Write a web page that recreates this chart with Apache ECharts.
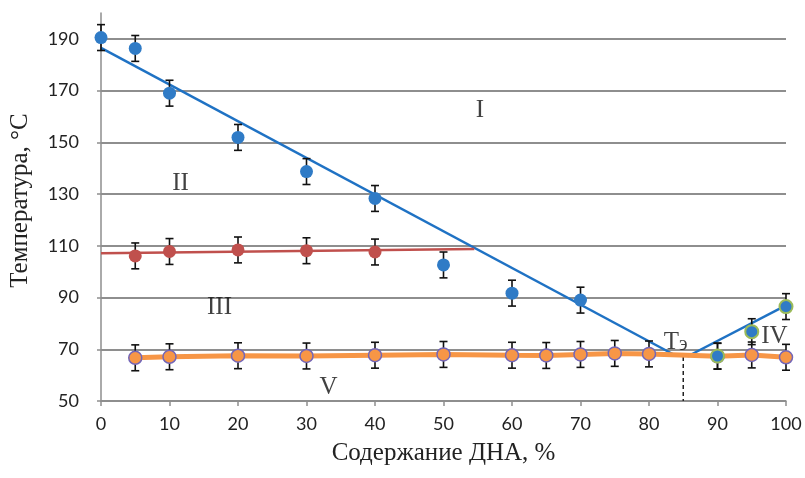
<!DOCTYPE html>
<html><head><meta charset="utf-8">
<script src="https://cdn.jsdelivr.net/npm/echarts@6/dist/echarts.min.js"></script>
<style>html,body{margin:0;padding:0;background:#fff}#c{width:805px;height:478px}</style>
</head><body><div id="c"></div>
<script>
// Data
const xI = [0, 5, 10, 20, 30, 40, 50, 60, 70];
const yI = [190.5, 186.3, 169.0, 151.9, 138.7, 128.3, 102.6, 91.7, 89.0];
const xII = [5, 10, 20, 30, 40];
const yII = [106.1, 107.8, 108.4, 108.1, 107.6];
const xV = [5, 10, 20, 30, 40, 50, 60, 65, 70, 75, 80, 90, 95, 100];
const yV = [66.7, 67.1, 67.5, 67.4, 67.7, 68.0, 67.7, 67.6, 68.0, 68.4, 68.2, 67.3, 67.8, 66.9];
const xIV = [90, 95, 100];
const yIV = [67.4, 76.8, 86.5];
const errHalf = 5;
const trendI = [[0, 186.5], [84, 67.4]];
const trendIV = [[85.6, 67.2], [100, 87]];
const trendII = [[0, 107.1], [54.5, 108.8]];
const eutectic = [[85, 67], [85, 50]];
const regionLabels = [['I', 55.3, 162.2], ['II', 11.6, 134.3], ['III', 17.3, 86], ['V', 33.2, 55.4], ['IV', 98.3, 74.8], ['Тэ', 83.9, 72.8]];
const xTicks = {min: 0, max: 100, interval: 10};
const yTicks = {min: 50, max: 200, interval: 20};

const pts = (xs, ys) => xs.map((x, i) => [x, ys[i]]);
const errs = (xs, ys) => xs.map((x, i) => [x, ys[i], errHalf]);

const errSeries = (data) => ({
  type: 'custom', data: data, z: 3, clip: false, silent: true,
  renderItem: function (params, api) {
    const x = api.value(0), y = api.value(1), e = api.value(2);
    const top = api.coord([x, y + e]), bot = api.coord([x, y - e]);
    const w = 4;
    const st = {stroke: '#111', lineWidth: 1.6};
    return {type: 'group', children: [
      {type: 'line', shape: {x1: top[0], y1: top[1], x2: bot[0], y2: bot[1]}, style: st},
      {type: 'line', shape: {x1: top[0] - w, y1: top[1], x2: top[0] + w, y2: top[1]}, style: st},
      {type: 'line', shape: {x1: bot[0] - w, y1: bot[1], x2: bot[0] + w, y2: bot[1]}, style: st}
    ]};
  }
});

const chart = echarts.init(document.getElementById('c'), null, {renderer: 'canvas'});
const gridColor = '#8e8e8e';
chart.setOption({
  animation: false,
  grid: {left: 100.5, right: 19, top: 13, bottom: 77},
  xAxis: {
    type: 'value', min: xTicks.min, max: xTicks.max, interval: xTicks.interval,
    name: 'Содержание ДНА, %', nameLocation: 'middle', nameGap: 40,
    nameTextStyle: {fontFamily: 'Liberation Serif', fontSize: 25, color: '#222'},
    axisLine: {show: true, lineStyle: {color: gridColor, width: 1.5}},
    axisTick: {show: true, length: 5, lineStyle: {color: gridColor, width: 1.5}},
    axisLabel: {fontFamily: 'Lato', fontSize: 18, color: '#222', margin: 14},
    splitLine: {show: false}
  },
  yAxis: {
    type: 'value', min: yTicks.min, max: yTicks.max, interval: yTicks.interval,
    name: 'Температура, °С', nameLocation: 'middle', nameGap: 68, nameRotate: 90,
    nameTextStyle: {fontFamily: 'Liberation Serif', fontSize: 25, color: '#222', padding: [0, 0, 0, 13]},
    axisLine: {show: true, lineStyle: {color: gridColor, width: 1.5}},
    axisTick: {show: true, length: 4, lineStyle: {color: gridColor, width: 1.5}},
    axisLabel: {fontFamily: 'Lato', fontSize: 18, color: '#222', margin: 22, showMaxLabel: false},
    splitLine: {show: true, showMaxLine: false, lineStyle: {color: gridColor, width: 1.8}}
  },
  series: [
    {type: 'line', data: trendI, symbol: 'none', z: 2, lineStyle: {color: '#1f72c4', width: 2.5}},
    {type: 'line', data: trendIV, symbol: 'none', z: 2, lineStyle: {color: '#1f72c4', width: 2.5}},
    {type: 'line', data: trendII, symbol: 'none', z: 2, lineStyle: {color: '#c0504d', width: 2.5}},
    {type: 'line', data: eutectic, symbol: 'none', z: 2, lineStyle: {color: '#222', width: 1.5, type: [4, 3]}},
    {type: 'line', data: pts(xV, yV), symbol: 'none', z: 2, lineStyle: {color: '#f79646', width: 5}},
    errSeries(errs(xI, yI)),
    errSeries(errs(xII, yII)),
    errSeries(errs(xV, yV)),
    errSeries(errs(xIV, yIV)),
    {type: 'scatter', data: pts(xI, yI), symbolSize: 13, z: 4, itemStyle: {color: '#2f7bc6', opacity: 1}},
    {type: 'scatter', data: pts(xII, yII), symbolSize: 13, z: 4, itemStyle: {color: '#c0504d', opacity: 1}},
    {type: 'scatter', data: pts(xV, yV), symbolSize: 13, z: 4, itemStyle: {color: '#f79646', borderColor: '#7366b8', borderWidth: 1.5, opacity: 1}},
    {type: 'scatter', data: pts(xIV, yIV), symbolSize: 13, z: 5, itemStyle: {color: '#2f7bc6', borderColor: '#9bbb59', borderWidth: 2, opacity: 1}},
    {type: 'scatter', data: regionLabels.map(r => ({value: [r[1], r[2]], name: r[0]})), symbolSize: 0, z: 6, silent: true,
      label: {show: true, position: 'inside',
        formatter: p => p.name === 'Тэ' ? '{a|Т}{b|э}' : '{a|' + p.name + '}',
        rich: {
          a: {fontFamily: 'Liberation Serif', fontSize: 25, color: '#111'},
          b: {fontFamily: 'Liberation Serif', fontSize: 20, color: '#111', padding: [6, 0, 0, 0]}
        }}}
  ]
});
</script></body></html>
